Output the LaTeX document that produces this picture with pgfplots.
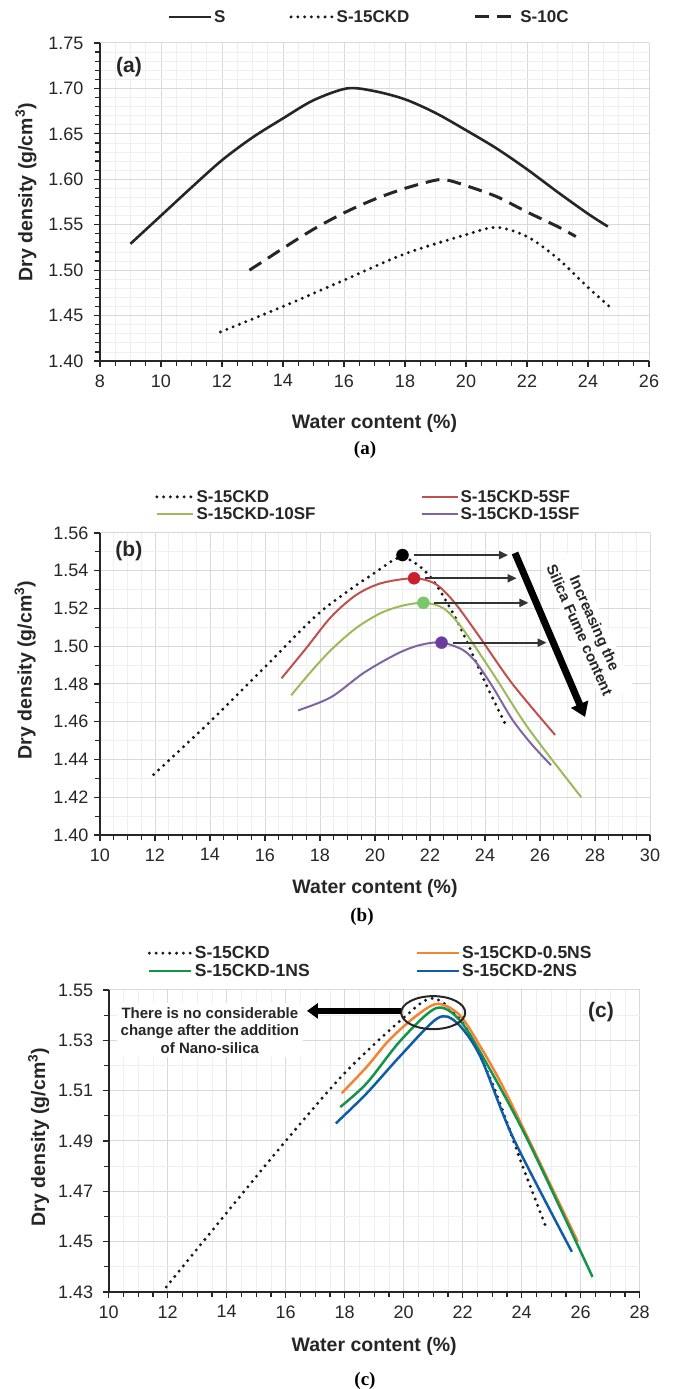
\documentclass[border=0pt]{standalone}
\usepackage{fontspec}
\setmainfont{Liberation Sans}
\newfontfamily\timesfont{Liberation Serif}
\usepackage{pgfplots}
\pgfplotsset{compat=1.18}
\usetikzlibrary{arrows.meta}
\definecolor{gmaj}{HTML}{D9D9D9}
\definecolor{gmin}{HTML}{EFEFEF}
\definecolor{cRed}{HTML}{C0504D}
\definecolor{cGreen}{HTML}{9BBB59}
\definecolor{cPurple}{HTML}{8064A2}
\definecolor{dRed}{HTML}{CC1F2D}
\definecolor{dGreen}{HTML}{7CC66A}
\definecolor{dPurple}{HTML}{6A3C9E}
\definecolor{cOrange}{HTML}{F4842F}
\definecolor{cGreenB}{HTML}{12944A}
\definecolor{cBlue}{HTML}{0F5DA8}
\tikzset{peak arrow/.style={black!80, line width=2pt, -{Triangle[length=9pt,width=8pt]}}}
\pgfplotsset{
 myaxis/.style={
  scale only axis, anchor=south west, clip=false,
  axis lines=left, axis line style={-, line width=2pt, black!85},
  tick align=outside, tick pos=left,
  major tick length=6pt, minor tick length=5pt,
  every tick/.append style={black!85, line width=1.2pt},
  grid=both, major grid style={gmaj, line width=1pt}, minor grid style={gmin, line width=0.8pt},
  tick label style={font=\fontsize{18}{20}\selectfont, text=black!85},
  xticklabel style={yshift=-4pt},
  /pgf/number format/assume math mode=true,
  yticklabel style={/pgf/number format/fixed, /pgf/number format/fixed zerofill, /pgf/number format/precision=2},
  label style={font=\bfseries\fontsize{19.5}{22}\selectfont, text=black!85},
  legend style={draw=none, fill=none, inner sep=0pt, row sep=0pt, nodes={inner sep=2pt},
    font=\bfseries\fontsize{17}{19}\selectfont, text=black!85},
  legend image code/.code={\draw[##1] (0pt,0pt) -- (42pt,0pt);},
  legend cell align=left,
 },
 dotted line/.style={black!90, line width=3.3pt, dash pattern=on 0pt off 6.8pt, line cap=round},
}
\begin{document}
\begin{tikzpicture}
% ---------------- (a)
\begin{axis}[myaxis, at={(100pt,1028pt)}, width=549pt, height=318pt,
  xmin=8, xmax=26, ymin=1.40, ymax=1.75,
  xtick={8,10,12,14,16,18,20,22,24,26},
  ytick={1.40,1.45,1.50,1.55,1.60,1.65,1.70,1.75},
  minor x tick num=3, minor y tick num=4,
  yticklabel style={xshift=-7pt},
  xlabel={Water content (\%)}, ylabel={Dry density (g/cm\textsuperscript{3})},
  x label style={at={(axis description cs:0.5,-0.195)}, anchor=center},
  y label style={at={(axis description cs:-0.135,0.53)}, anchor=center},
  legend columns=3,
  legend style={at={(0.49,1.082)}, anchor=center, /tikz/every even column/.append style={column sep=62pt}},
]
\addplot[black!85, line width=2.6pt, smooth] coordinates {
(9.0,1.529)(10,1.560)(11,1.591)(12,1.621)(13,1.646)(14,1.667)(15,1.687)(16.1,1.700)(17,1.697)(18,1.688)(19,1.673)(20,1.654)(21,1.634)(22,1.611)(23,1.586)(24,1.562)(24.65,1.548)};
\addlegendentry{S}
\addplot[dotted line, smooth] coordinates {
(11.95,1.432)(14,1.460)(16,1.489)(18,1.518)(20,1.539)(21,1.547)(22,1.537)(23,1.513)(24,1.481)(24.8,1.457)};
\addlegendentry{S-15CKD}
\addplot[black!85, line width=3pt, dash pattern=on 14pt off 8pt, smooth] coordinates {
(12.9,1.500)(13.5,1.513)(14,1.524)(15,1.545)(16,1.563)(17,1.578)(18,1.590)(19,1.599)(19.4,1.599)(20,1.593)(21,1.581)(22,1.564)(23,1.548)(23.6,1.537)};
\addlegendentry{S-10C}
\node[font=\bfseries\fontsize{21}{24}\selectfont, text=black!85] at (axis cs:8.95,1.7236) {(a)};
\end{axis}
% ---------------- (b)
\begin{axis}[myaxis, at={(100pt,554pt)}, width=550pt, height=302pt,
  xmin=10, xmax=30, ymin=1.40, ymax=1.56,
  xtick={10,12,14,16,18,20,22,24,26,28,30},
  ytick={1.40,1.42,1.44,1.46,1.48,1.50,1.52,1.54,1.56},
  minor x tick num=3, minor y tick num=1,
  yticklabel style={xshift=-2pt},
  xlabel={Water content (\%)}, ylabel={Dry density (g/cm\textsuperscript{3})},
  x label style={at={(axis description cs:0.5,-0.1755)}, anchor=center},
  y label style={at={(axis description cs:-0.136,0.546)}, anchor=center},
  legend columns=2,
  legend style={at={(0.1,1.149)}, anchor=north west, /tikz/every even column/.append style={column sep=103pt}},
  legend image code/.code={\draw[#1] (0pt,0pt) -- (36pt,0pt);},
]
\addplot[dotted line, smooth] coordinates {
(11.95,1.432)(14,1.460)(16,1.489)(18,1.518)(20,1.539)(21,1.547)(22,1.537)(23,1.513)(24,1.481)(24.8,1.457)};
\addlegendentry{S-15CKD}
\addplot[cRed, line width=2pt, smooth] coordinates {
(16.6,1.483)(17.5,1.499)(18.4,1.5155)(19.3,1.527)(20.2,1.5333)(21.4,1.536)(22.2,1.533)(22.9,1.523)(23.8,1.505)(25.0,1.480)(26.55,1.453)};
\addlegendentry{S-15CKD-5SF}
\addplot[cGreen, line width=2pt, smooth] coordinates {
(16.95,1.474)(17.7,1.487)(18.4,1.498)(19.3,1.5095)(20.2,1.5175)(21.0,1.5215)(21.8,1.523)(22.5,1.520)(23.2,1.509)(24.4,1.483)(25.6,1.456)(27.5,1.420)};
\addlegendentry{S-15CKD-10SF}
\addplot[cPurple, line width=2pt, smooth] coordinates {
(17.2,1.466)(18.4,1.473)(19.6,1.486)(20.8,1.496)(21.6,1.5005)(22.4,1.502)(23.2,1.498)(23.7,1.491)(24.3,1.478)(25.0,1.461)(25.7,1.448)(26.4,1.437)};
\addlegendentry{S-15CKD-15SF}
\addplot[forget plot, only marks, mark=*, mark size=6pt, black] coordinates {(21.0,1.5483)};
\addplot[forget plot, only marks, mark=*, mark size=6pt, dRed, mark options={fill=dRed}] coordinates {(21.42,1.536)};
\addplot[forget plot, only marks, mark=*, mark size=6pt, dGreen, mark options={fill=dGreen}] coordinates {(21.76,1.523)};
\addplot[forget plot, only marks, mark=*, mark size=6pt, dPurple, mark options={fill=dPurple}] coordinates {(22.42,1.5019)};
\draw[peak arrow] (axis cs:21.4,1.5483) -- (axis cs:24.84,1.5483);
\draw[peak arrow] (axis cs:21.82,1.536) -- (axis cs:25.15,1.536);
\draw[peak arrow] (axis cs:22.16,1.523) -- (axis cs:25.58,1.523);
\draw[peak arrow] (axis cs:22.82,1.5019) -- (axis cs:26.24,1.5019);
\node[fill=white, rotate=-66, align=center, inner sep=4pt, font=\bfseries\fontsize{15}{16.5}\selectfont, text=black!85] at (axis cs:27.72,1.5104) {Increasing the\\Silica Fume content};
\draw[black, line width=7pt, -{Triangle[length=14pt,width=18pt]}] (axis cs:25.09,1.5494) -- (axis cs:27.64,1.4625);
\node[font=\bfseries\fontsize{21}{24}\selectfont, text=black!85] at (axis cs:11.05,1.5505) {(b)};
\end{axis}
% ---------------- (c)
\begin{axis}[myaxis, at={(108.7pt,97pt)}, width=531pt, height=302pt,
  xmin=10, xmax=28, ymin=1.43, ymax=1.55,
  xtick={10,12,14,16,18,20,22,24,26,28},
  ytick={1.43,1.45,1.47,1.49,1.51,1.53,1.55},
  minor x tick num=3, minor y tick num=1,
  yticklabel style={xshift=-6pt},
  xlabel={Water content (\%)}, ylabel={Dry density (g/cm\textsuperscript{3})},
  x label style={at={(axis description cs:0.5,-0.179)}, anchor=center},
  y label style={at={(axis description cs:-0.132,0.513)}, anchor=center},
  legend columns=2,
  legend style={at={(0.073,1.152)}, anchor=north west, font=\bfseries\fontsize{17.5}{21}\selectfont, /tikz/every even column/.append style={column sep=104pt}},
]
\addplot[dotted line, smooth] coordinates {
(11.95,1.432)(14,1.4615)(16,1.490)(18,1.517)(20,1.539)(21,1.5467)(22,1.537)(23,1.513)(24,1.481)(24.8,1.4565)};
\addlegendentry{S-15CKD}
\addplot[cOrange, line width=2.5pt, smooth] coordinates {
(17.9,1.509)(18.75,1.5195)(19.5,1.530)(20.4,1.5395)(21.15,1.5445)(21.9,1.540)(22.6,1.5275)(23.3,1.513)(24.2,1.4915)(25.9,1.450)};
\addlegendentry{S-15CKD-0.5NS}
\addplot[cGreenB, line width=2.5pt, smooth] coordinates {
(17.85,1.5035)(18.75,1.513)(19.9,1.530)(21.1,1.5428)(21.9,1.538)(22.8,1.521)(24.2,1.4905)(26.4,1.436)};
\addlegendentry{S-15CKD-1NS}
\addplot[cBlue, line width=2.5pt, smooth] coordinates {
(17.7,1.497)(18.75,1.509)(19.9,1.524)(21.15,1.5388)(21.8,1.537)(22.6,1.5235)(23.7,1.4915)(25.7,1.446)};
\addlegendentry{S-15CKD-2NS}
\draw[black!85, line width=2pt] (axis cs:21.0,1.541) ellipse [x radius=32pt, y radius=16.5pt];
\node[fill=white, align=center, inner sep=4pt, font=\bfseries\fontsize{15}{17.5}\selectfont, text=black!85] at (axis cs:13.43,1.534) {There is no considerable\\change after the addition\\of Nano-silica};
\draw[black, line width=6pt, -{Triangle[length=11pt,width=15pt]}] (axis cs:19.91,1.5417) -- (axis cs:16.72,1.5417);
\node[font=\bfseries\fontsize{21}{24}\selectfont, text=black!85] at (axis cs:26.69,1.5413) {(c)};
\end{axis}
\node[font=\timesfont\bfseries\fontsize{19}{22}\selectfont] at (365pt,939pt) {(a)};
\node[font=\timesfont\bfseries\fontsize{19}{22}\selectfont] at (362pt,472pt) {(b)};
\node[font=\timesfont\bfseries\fontsize{19}{22}\selectfont] at (365pt,8pt) {(c)};
\pgfresetboundingbox
\useasboundingbox (0pt,0pt) rectangle (673pt,1389pt);
\end{tikzpicture}
\end{document}
